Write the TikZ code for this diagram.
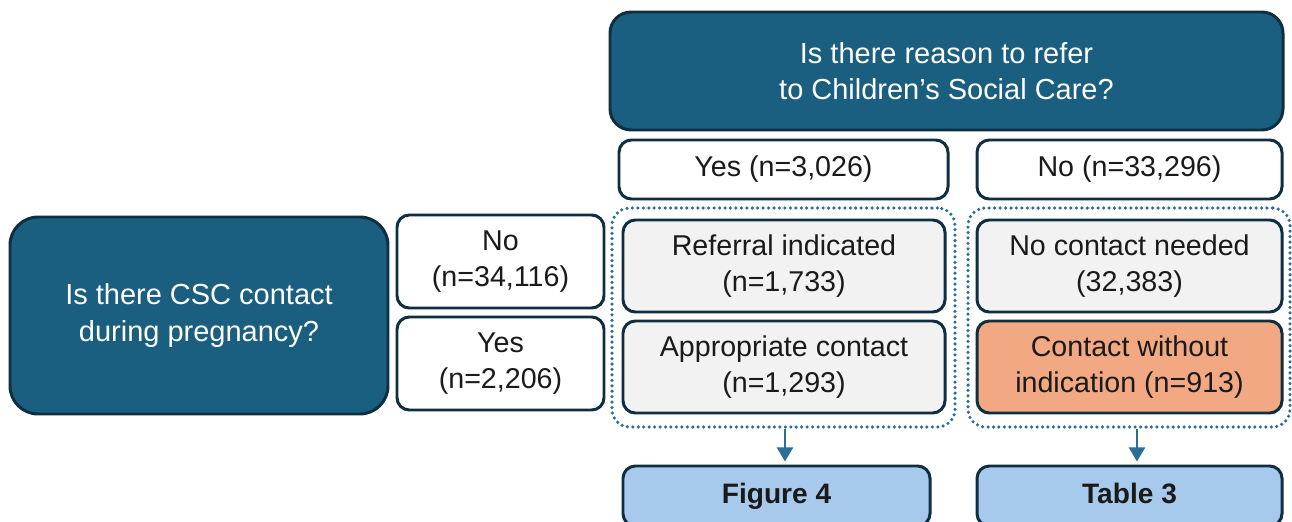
\documentclass[tikz,border=0pt]{standalone}
\usepackage{fontspec}
\setmainfont{Liberation Sans}
\usetikzlibrary{arrows.meta}
\definecolor{teal}{HTML}{1A5E80}
\definecolor{navy}{HTML}{0F2E40}
\definecolor{dotc}{HTML}{2A6F95}
\definecolor{grayf}{HTML}{F2F2F2}
\definecolor{orangef}{HTML}{F2A983}
\definecolor{bluef}{HTML}{A7CAEC}
\definecolor{txt}{HTML}{1A1A1A}
\tikzset{
  base/.style={draw=navy, line width=1.7pt, align=center, inner sep=0pt,
    font=\fontsize{16.3}{20.4}\selectfont, text=txt},
  dark/.style={base, fill=teal, text=white, rounded corners=12pt},
  wbox/.style={base, fill=white, rounded corners=7pt},
  gbox/.style={base, fill=grayf, rounded corners=7pt},
  obox/.style={base, fill=orangef, rounded corners=7pt},
  bbox/.style={base, fill=bluef, rounded corners=7pt, font=\fontsize{16}{20.4}\selectfont\bfseries},
  group/.style={draw=dotc, line width=2pt, dash pattern=on 0pt off 3.1pt, line cap=round, rounded corners=10pt, inner sep=0pt},
  arr/.style={draw=dotc, line width=1.6pt, -{Triangle[length=8pt,width=9pt]}}
}
\begin{document}
\begin{tikzpicture}[x=0.02cm,y=-0.02cm]
\clip (0,0) rectangle (1292,521);
\fill[white] (0,0) rectangle (1292,521);
% groups
\node[group, minimum width=343*0.02cm, minimum height=219*0.02cm] (grpL) at (783.5,317.5) {};
\node[group, minimum width=322*0.02cm, minimum height=219*0.02cm] (grpR) at (1129,317.5) {};
% top question
\node[dark, minimum width=673*0.02cm, minimum height=118*0.02cm, font=\fontsize{16.5}{20.6}\selectfont] (q1) at (946.5,71) {Is there reason to refer\\to Children’s Social Care?};
\node[wbox, minimum width=329*0.02cm, minimum height=59*0.02cm] (yes1) at (783.5,169.5) {Yes (n=3,026)};
\node[wbox, minimum width=305*0.02cm, minimum height=59*0.02cm] (no1) at (1129.5,169.5) {No (n=33,296)};
% inner boxes
\node[gbox, minimum width=322*0.02cm, minimum height=92*0.02cm] (ref) at (784,266) {Referral indicated\\(n=1,733)};
\node[gbox, minimum width=322*0.02cm, minimum height=92*0.02cm] (app) at (784,367) {Appropriate contact\\(n=1,293)};
\node[gbox, minimum width=305*0.02cm, minimum height=92*0.02cm] (ncn) at (1129.5,266) {No contact needed\\(32,383)};
\node[obox, minimum width=305*0.02cm, minimum height=92*0.02cm] (cwi) at (1129.5,367) {Contact without\\indication (n=913)};
% left question
\node[dark, rounded corners=16pt, minimum width=378*0.02cm, minimum height=197*0.02cm, font=\fontsize{16.5}{20.6}\selectfont] (q2) at (199,315.5) {Is there CSC contact\\during pregnancy?};
\node[wbox, minimum width=207*0.02cm, minimum height=93*0.02cm] (no2) at (500.5,261.5) {No\\(n=34,116)};
\node[wbox, minimum width=207*0.02cm, minimum height=93*0.02cm] (yes2) at (500.5,363.5) {Yes\\(n=2,206)};
% bottom boxes
\node[bbox, minimum width=307*0.02cm, minimum height=60*0.02cm] (fig4) at (776.5,496) {\strut Figure 4};
\node[bbox, minimum width=305*0.02cm, minimum height=60*0.02cm] (tab3) at (1129.5,496) {\strut Table 3};
% arrows
\coordinate (aL) at ([xshift=1.5*0.02cm]grpL.south);
\coordinate (aR) at ([xshift=8*0.02cm]grpR.south);
\draw[arr] (aL) -- ([yshift=3*0.02cm]aL |- fig4.north);
\draw[arr] (aR) -- ([yshift=3*0.02cm]aR |- tab3.north);
\end{tikzpicture}
\end{document}
